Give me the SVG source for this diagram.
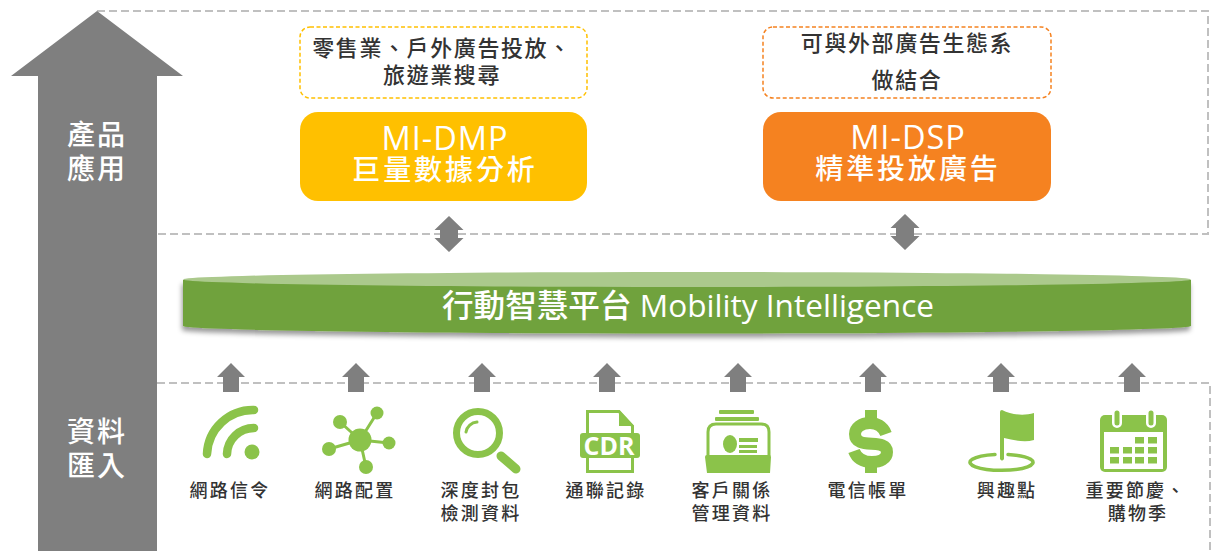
<svg xmlns="http://www.w3.org/2000/svg" width="1211" height="551" viewBox="0 0 1211 551">
<defs>
<filter id="sh" x="-2%" y="-20%" width="104%" height="150%"><feDropShadow dx="-1" dy="4" stdDeviation="2.500" flood-color="#000" flood-opacity=".4"/></filter>
<path id="up" d="M0 -14 L14 0 H8 V15 H-8 V0 H-14 Z"/>
<path id="dbl" d="M0 0 L14.500 14 H9 V22 H14.500 L0 36 L-14.500 22 H-9 V14 H-14.500 Z"/>
</defs>
<style>
text{font-family:"Open Sans","Noto Sans CJK TC",sans-serif;text-anchor:middle}
.dash{fill:none;stroke:#c0c0c0;stroke-width:2;stroke-dasharray:8 4}
.gray{fill:#7f7f7f}
.g{fill:#8bc34a}
.gs{fill:none;stroke:#8bc34a;stroke-linecap:round}
.lab{font-family:"Noto Sans CJK TC",sans-serif;font-size:18px;letter-spacing:2.200px;fill:#333;font-weight:500}
.top{font-family:"Noto Sans CJK TC",sans-serif;font-size:22px;letter-spacing:1.600px;fill:#333;font-weight:500}
.big{font-size:32.500px;fill:#fff;letter-spacing:1px;font-weight:500}
.bigz{font-family:"Noto Sans CJK TC",sans-serif;font-size:28px;letter-spacing:2.900px;fill:#fff;font-weight:500}
.side{font-family:"Noto Sans CJK TC",sans-serif;font-size:28px;letter-spacing:2px;fill:#fff;font-weight:500}
</style>
<g id="regions">
<path class="dash" d="M97 11 H1208 V234 H157"/>
<path class="dash" d="M157 383 H1210 V551"/>
</g>
<g id="axis">
<path class="gray" d="M97 11 L183 76 H157 V551 H38 V76 H11 Z"/>
<text class="side"><tspan x="97" y="145">產品</tspan><tspan x="97" y="179">應用</tspan></text>
<text class="side"><tspan x="97" y="442">資料</tspan><tspan x="97" y="476">匯入</tspan></text>
</g>
<g id="note-dmp">
<rect x="300" y="27" width="287" height="71" rx="10" fill="#fff" stroke="#ffc000" stroke-width="1.500" stroke-dasharray="4 2.500"/>
<text class="top"><tspan x="442" y="56">零售業、戶外廣告投放、</tspan><tspan x="442" y="83">旅遊業搜尋</tspan></text>
</g>
<g id="mi-dmp">
<rect x="300" y="112" width="287" height="89" rx="18" fill="#ffc000"/>
<text><tspan class="big" x="445" y="150">MI-DMP</tspan><tspan class="bigz" x="445" y="180">巨量數據分析</tspan></text>
</g>
<g id="note-dsp">
<rect x="763" y="27" width="288" height="71" rx="10" fill="#fff" stroke="#f58220" stroke-width="1.500" stroke-dasharray="4 2.500"/>
<text class="top"><tspan x="907" y="51">可與外部廣告生態系</tspan><tspan x="907" y="88">做結合</tspan></text>
</g>
<g id="mi-dsp">
<rect x="763" y="112" width="288" height="89" rx="18" fill="#f58220"/>
<text><tspan class="big" x="908" y="149">MI-DSP</tspan><tspan class="bigz" x="908" y="179">精準投放廣告</tspan></text>
</g>
<g id="platform">
<path filter="url(#sh)" fill="#70a23c" d="M183 280 V326 A504 7.500 0 0 0 1191 326 V280 Z"/>
<ellipse cx="687" cy="279.500" rx="504" ry="7.500" fill="#abc98c"/>
<text x="688" y="317" font-size="31.600" font-weight="500" fill="#fff">行動智慧平台 Mobility Intelligence</text>
</g>
<g id="connectors">
<use href="#dbl" class="gray" x="449" y="216"/>
<use href="#dbl" class="gray" x="905" y="214"/>
<use href="#up" class="gray" x="231" y="377"/>
<use href="#up" class="gray" x="356" y="377"/>
<use href="#up" class="gray" x="482" y="377"/>
<use href="#up" class="gray" x="607" y="377"/>
<use href="#up" class="gray" x="738" y="377"/>
<use href="#up" class="gray" x="873" y="377"/>
<use href="#up" class="gray" x="1001" y="377"/>
<use href="#up" class="gray" x="1132" y="377"/>
</g>
<g id="src-signal">
<path class="gs" stroke-width="8.500" d="M207 454 A46 46 0 0 1 254 410"/>
<path class="gs" stroke-width="8.500" d="M227 454 A27 27 0 0 1 254 428"/>
<circle class="g" cx="252" cy="452" r="7.500"/>
<text class="lab" x="230" y="497">網路信令</text>
</g>
<g id="src-topology">
<path class="gs" stroke-width="3" d="M360 440 L377 413 M360 440 L340 422 M360 440 L389 443 M360 440 L329 449 M360 440 L366 467"/>
<circle class="g" cx="360" cy="440" r="11.500"/>
<circle class="g" cx="377" cy="413" r="6.500"/>
<circle class="g" cx="340" cy="422" r="7"/>
<circle class="g" cx="389" cy="443" r="6.500"/>
<circle class="g" cx="329" cy="449" r="7"/>
<circle class="g" cx="366" cy="467" r="7"/>
<text class="lab" x="355" y="497">網路配置</text>
</g>
<g id="src-dpi">
<circle class="gs" cx="478" cy="433" r="21.500" stroke-width="7"/>
<path class="gs" stroke-width="9" d="M501 456 L516 469"/>
<path class="gs" stroke-width="3" d="M466 432 A12 12 0 0 1 477 422"/>
<text class="lab"><tspan x="481" y="497">深度封包</tspan><tspan x="481" y="520">檢測資料</tspan></text>
</g>
<g id="src-cdr">
<path fill="#fff" stroke="#8bc34a" stroke-width="3" d="M587.500 411.500 H619 L632.500 426 V471.500 H587.500 Z"/>
<path class="g" d="M619 410 L634 426 H619 Z"/>
<rect class="g" x="580" y="433" width="60" height="25" rx="3"/>
<text x="609" y="455" font-size="25" font-weight="700" fill="#fff">CDR</text>
<text class="lab" x="606" y="497">通聯記錄</text>
</g>
<g id="src-crm">
<rect class="g" x="719" y="410" width="35" height="4" rx="1"/>
<rect class="g" x="715" y="417" width="44" height="4" rx="1"/>
<path fill="none" stroke="#8bc34a" stroke-width="3" d="M708 456 V432 Q708 424 716 424 H761 Q769 424 769 432 V456"/>
<path class="g" d="M705 457 Q705 455 707 455 H769 Q771 455 771 457 L770 473 H707 Z"/>
<ellipse class="g" cx="730" cy="444" rx="7" ry="9"/>
<rect class="g" x="739" y="438" width="19" height="4"/>
<rect class="g" x="739" y="445" width="18" height="3"/>
<rect class="g" x="739" y="450" width="18" height="3"/>
<text class="lab"><tspan x="732" y="497">客戶關係</tspan><tspan x="732" y="520">管理資料</tspan></text>
</g>
<g id="src-billing">
<rect class="g" x="865" y="410" width="12" height="15"/>
<rect class="g" x="865" y="458" width="12" height="15"/>
<path fill="none" stroke="#8bc34a" stroke-width="12" d="M886 434 C883 426 876 423 870 423 C861 423 855 428 855 434 C855 451 887 437 887 452 C887 459 880 462 872 462 C864 462 857 459 854 451"/>
<text class="lab" x="868" y="497">電信帳單</text>
</g>
<g id="src-poi">
<path class="g" d="M1000 412 Q1000 410 1002 410 C1012 415 1024 416 1034 413 V440 C1024 443 1014 440 1004 438 V459 Q1002 462 1000 459 Z"/>
<path class="gs" stroke-width="3.500" stroke-linecap="butt" d="M995 454.500 A31.500 8 0 1 0 1008 454.500"/>
<text class="lab" x="1007" y="497">興趣點</text>
</g>
<g id="src-season">
<rect class="g" x="1100" y="415" width="67" height="57" rx="5"/>
<rect x="1104" y="432" width="59" height="37" fill="#fff"/>
<path fill="none" stroke="#fff" stroke-width="10" stroke-linecap="round" d="M1117 410 V423 M1151 410 V423"/>
<path fill="none" stroke="#8bc34a" stroke-width="5" stroke-linecap="round" d="M1117 413 V423 M1151 413 V423"/>
<g class="g">
<rect x="1135" y="437" width="9" height="6.500"/><rect x="1148" y="437" width="9" height="6.500"/>
<rect x="1110" y="447" width="9" height="6.500"/><rect x="1123" y="447" width="9" height="6.500"/><rect x="1135" y="447" width="9" height="6.500"/><rect x="1148" y="447" width="9" height="6.500"/>
<rect x="1110" y="457" width="9" height="6.500"/><rect x="1123" y="457" width="9" height="6.500"/><rect x="1135" y="457" width="9" height="6.500"/><rect x="1148" y="457" width="9" height="6.500"/>
</g>
<text class="lab"><tspan x="1136" y="497">重要節慶、</tspan><tspan x="1138" y="520">購物季</tspan></text>
</g>
</svg>
